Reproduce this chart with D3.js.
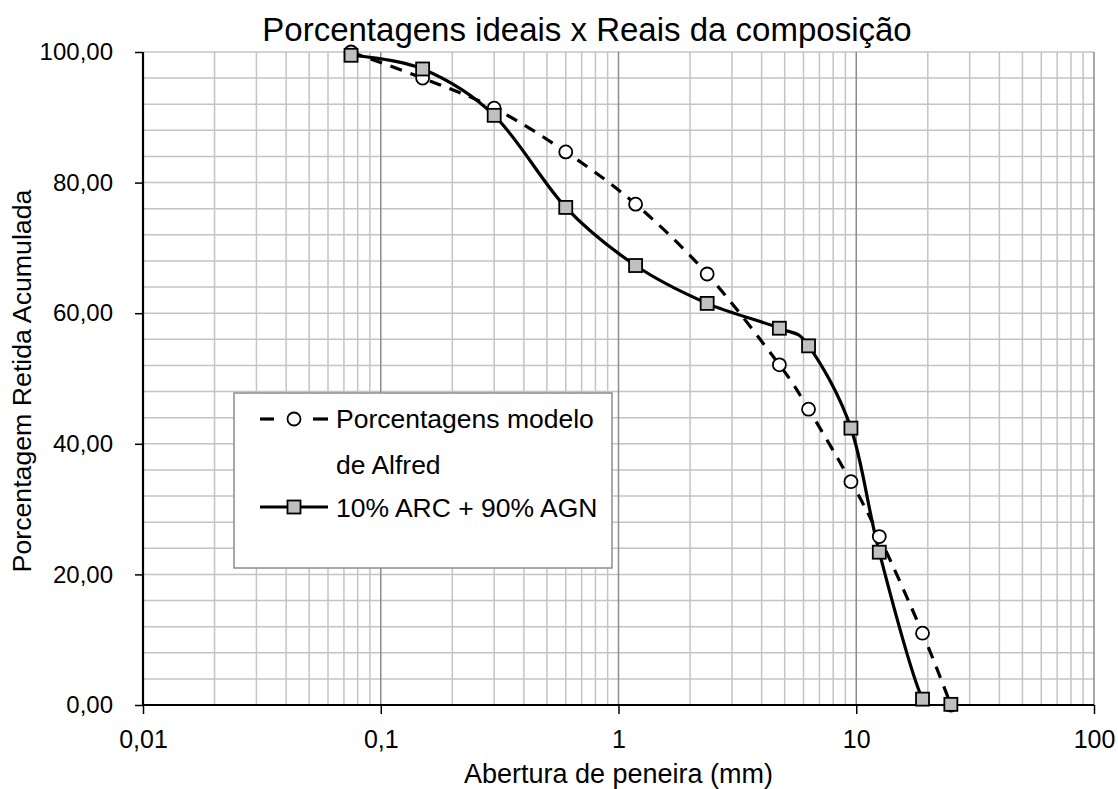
<!DOCTYPE html>
<html>
<head>
<meta charset="utf-8">
<script src="https://cdn.jsdelivr.net/npm/d3@7"></script>
<style>
  body { margin: 0; background: #fff; }
  text { font-family: "Liberation Sans", Arial, sans-serif; fill: #000; }
</style>
</head>
<body>
<div id="graf"></div>
<script>
// dados
const aberturas = [0.075, 0.15, 0.3, 0.6, 1.18, 2.36, 4.75, 6.3, 9.5, 12.5, 19, 25]
const alfred    = [100, 96.0, 91.4, 84.7, 76.7, 66.0, 52.1, 45.3, 34.2, 25.8, 11.0, 0]
const mistura   = [99.5, 97.4, 90.3, 76.2, 67.3, 61.5, 57.7, 55.0, 42.4, 23.4, 0.9, 0.1]
const xTicks = [0.01, 0.1, 1, 10, 100]
const yTicks = [0, 20, 40, 60, 80, 100]
const nomes = ['Porcentagens modelo', 'de Alfred', '10% ARC + 90% AGN']

const W = 1118, H = 789
const margins = { top: 52, left: 143, right: 24, bottom: 84 }
const ancho = W - margins.left - margins.right
const alto  = H - margins.top - margins.bottom

const svg = d3.select('#graf').append('svg')
  .attr('width', W).attr('height', H)

const g = svg.append('g')
  .attr('transform', `translate(${margins.left}, ${margins.top})`)

// Escaladores
const x = d3.scaleLog().domain([0.01, 100]).range([0, ancho])
const y = d3.scaleLinear().domain([0, 100]).range([alto, 0])
const fmt = d => d3.format('.2f')(d).replace('.', ',')

// grade vertical (menores e maiores)
const menores = []
xTicks.slice(0, -1).forEach(t => { for (let k = 2; k <= 9; k++) menores.push(t * k) })
g.append('g').selectAll('line').data(menores).join('line')
  .attr('x1', d => x(d)).attr('x2', d => x(d))
  .attr('y1', 0).attr('y2', alto)
  .attr('stroke', '#c4c4c4').attr('stroke-width', 1.5)

// grade horizontal a cada 4
g.append('g').selectAll('line').data(d3.range(4, 101, 4)).join('line')
  .attr('x1', 0).attr('x2', ancho)
  .attr('y1', d => y(d)).attr('y2', d => y(d))
  .attr('stroke', '#c4c4c4').attr('stroke-width', 1.5)

g.append('g').selectAll('line').data(xTicks.slice(1)).join('line')
  .attr('x1', d => x(d)).attr('x2', d => x(d))
  .attr('y1', 0).attr('y2', alto)
  .attr('stroke', '#8c8c8c').attr('stroke-width', 1.5)

// Ejes
const xAxis = g.append('g').attr('transform', `translate(0, ${alto})`)
  .call(d3.axisBottom(x).tickValues(xTicks).tickSize(9).tickPadding(16)
    .tickFormat(d => String(d).replace('.', ',')))
const yAxis = g.append('g')
  .call(d3.axisLeft(y).tickValues(yTicks).tickSize(8).tickPadding(22).tickFormat(fmt))
;[xAxis, yAxis].forEach(a => {
  a.select('.domain').attr('stroke', '#000').attr('stroke-width', 2.2)
  a.selectAll('.tick line').attr('stroke', '#000').attr('stroke-width', 1.5)
  a.selectAll('.tick text').style('font-family', '"Liberation Sans", Arial, sans-serif')
    .style('font-size', '24px').attr('fill', '#000')
})
xAxis.selectAll('.tick text').style('font-size', '25px')
xAxis.select('.domain').attr('d', `M0,0H${ancho}`)
yAxis.select('.domain').attr('d', `M0,0V${alto}`)

// clip para as curvas
svg.append('clipPath').attr('id', 'clip').append('rect')
  .attr('x', -10).attr('y', -10).attr('width', ancho + 20).attr('height', alto + 10)

const lineaGen = d3.line()
  .x(d => x(d[0])).y(d => y(d[1]))
  .curve(d3.curveCatmullRom.alpha(0))

const serieA = aberturas.map((a, i) => [a, alfred[i]])
const serieB = aberturas.map((a, i) => [a, mistura[i]])

g.append('path').datum(serieA).attr('clip-path', 'url(#clip)')
  .attr('d', lineaGen).attr('fill', 'none')
  .attr('stroke', '#000').attr('stroke-width', 3.2).attr('stroke-dasharray', '12,9')
g.append('path').datum(serieB).attr('clip-path', 'url(#clip)')
  .attr('d', lineaGen).attr('fill', 'none')
  .attr('stroke', '#000').attr('stroke-width', 3.2)

g.append('g').selectAll('circle').data(serieA).join('circle')
  .attr('cx', d => x(d[0])).attr('cy', d => y(d[1])).attr('r', 6.5)
  .attr('fill', '#fff').attr('stroke', '#000').attr('stroke-width', 1.8)
g.append('g').selectAll('rect').data(serieB).join('rect')
  .attr('x', d => x(d[0]) - 6.5).attr('y', d => y(d[1]) - 6.5)
  .attr('width', 13).attr('height', 13)
  .attr('fill', '#c0c0c0').attr('stroke', '#000').attr('stroke-width', 1.8)

// Títulos
svg.append('text').attr('x', 587).attr('y', 41).attr('text-anchor', 'middle')
  .style('font-size', '33px').text('Porcentagens ideais x Reais da composição')
svg.append('text').attr('x', margins.left + ancho / 2).attr('y', 783).attr('text-anchor', 'middle')
  .style('font-size', '27px').text('Abertura de peneira (mm)')
svg.append('text').attr('transform', 'translate(31, 381) rotate(-90)').attr('text-anchor', 'middle')
  .style('font-size', '26.7px').text('Porcentagem Retida Acumulada')

// Legenda
const leg = svg.append('g').attr('transform', 'translate(234, 393)')
leg.append('rect').attr('width', 378).attr('height', 175)
  .attr('fill', '#fff').attr('stroke', '#8c8c8c').attr('stroke-width', 1.5)
;[[26, 40], [79, 94]].forEach(s => {
  leg.append('line').attr('x1', s[0]).attr('x2', s[1]).attr('y1', 26).attr('y2', 26)
    .attr('stroke', '#000').attr('stroke-width', 3.2)
})
leg.append('circle').attr('cx', 60).attr('cy', 26).attr('r', 6.5)
  .attr('fill', '#fff').attr('stroke', '#000').attr('stroke-width', 1.8)
leg.append('line').attr('x1', 26).attr('x2', 94).attr('y1', 114).attr('y2', 114)
  .attr('stroke', '#000').attr('stroke-width', 3.2)
leg.append('rect').attr('x', 53.5).attr('y', 107.5).attr('width', 13).attr('height', 13)
  .attr('fill', '#c0c0c0').attr('stroke', '#000').attr('stroke-width', 1.8)
leg.selectAll('text.nome').data(nomes).join('text').attr('class', 'nome')
  .attr('x', 102).attr('y', (d, i) => [35, 81, 124][i])
  .style('font-size', '26.5px').text(d => d)
</script>
</body>
</html>
